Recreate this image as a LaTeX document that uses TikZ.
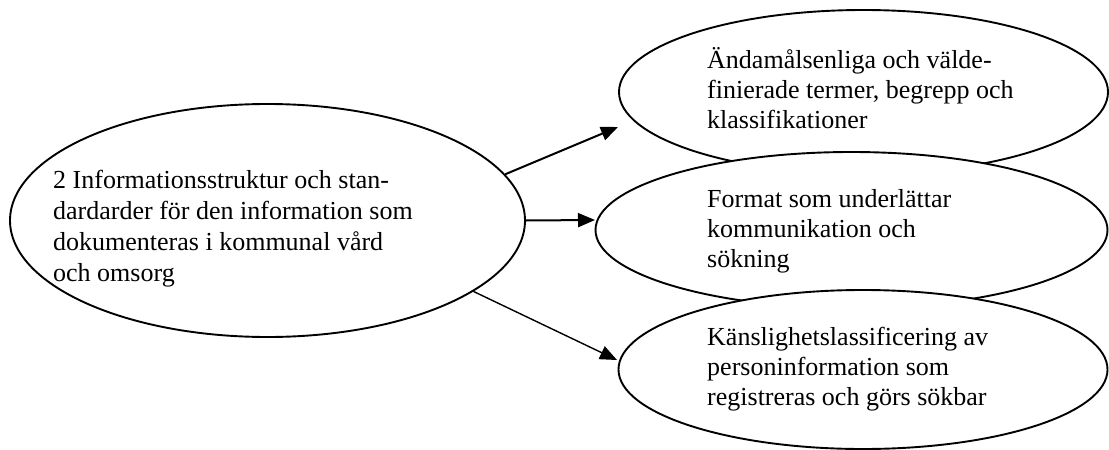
\documentclass[tikz,border=0pt]{standalone}
\usepackage{fontspec}
\setmainfont{Liberation Serif}
\usetikzlibrary{shapes.geometric,arrows.meta}
\tikzset{
  oval/.style={ellipse, draw=black, fill=white, line width=1.9pt, inner sep=0pt},
  txt/.style={anchor=base west, align=left, inner sep=0pt, font=\fontsize{26}{30}\selectfont},
  conn/.style={line width=2pt, -{Triangle[length=17pt,width=14pt]}},
  connthin/.style={line width=1.4pt, -{Triangle[length=17pt,width=14pt]}}
}
\begin{document}
\begin{tikzpicture}[x=1pt,y=-1pt]
\useasboundingbox (0,0) rectangle (1109,450);
% ellipses
\node[oval, minimum width=515pt, minimum height=233pt] (L) at (267.5,220.5) {};
\node[oval, minimum width=489pt, minimum height=164pt] (T) at (863.5,92) {};
\node[oval, minimum width=512pt, minimum height=156pt] (M) at (851.5,230) {};
\node[oval, minimum width=489pt, minimum height=159pt] (B) at (863,369.5) {};
% texts (anchored at the baseline of the last line)
\node[txt, font=\fontsize{26}{31}\selectfont] (Ltext) at (53,281) {2 Informationsstruktur och stan-\\dardarder för den information som\\dokumenteras i kommunal vård\\och omsorg};
\node[txt] (Ttext) at (707,128) {Ändamålsenliga och välde-\\finierade termer, begrepp och\\klassifikationer};
\node[txt] (Mtext) at (707,267) {Format som underlättar\\kommunikation och\\sökning};
\node[txt] (Btext) at (707,405) {Känslighetslassificering av\\personinformation som\\registreras och görs sökbar};
% arrow ends
\coordinate (tipT) at (618,127);
\coordinate (tipM) at (595,220);
\coordinate (tipB) at (617,360);
\draw[conn] (L.11.4) -- (tipT);
\draw[conn] (L.east) -- (tipM);
\draw[connthin] (L.341.9) -- (tipB);
\end{tikzpicture}
\end{document}
